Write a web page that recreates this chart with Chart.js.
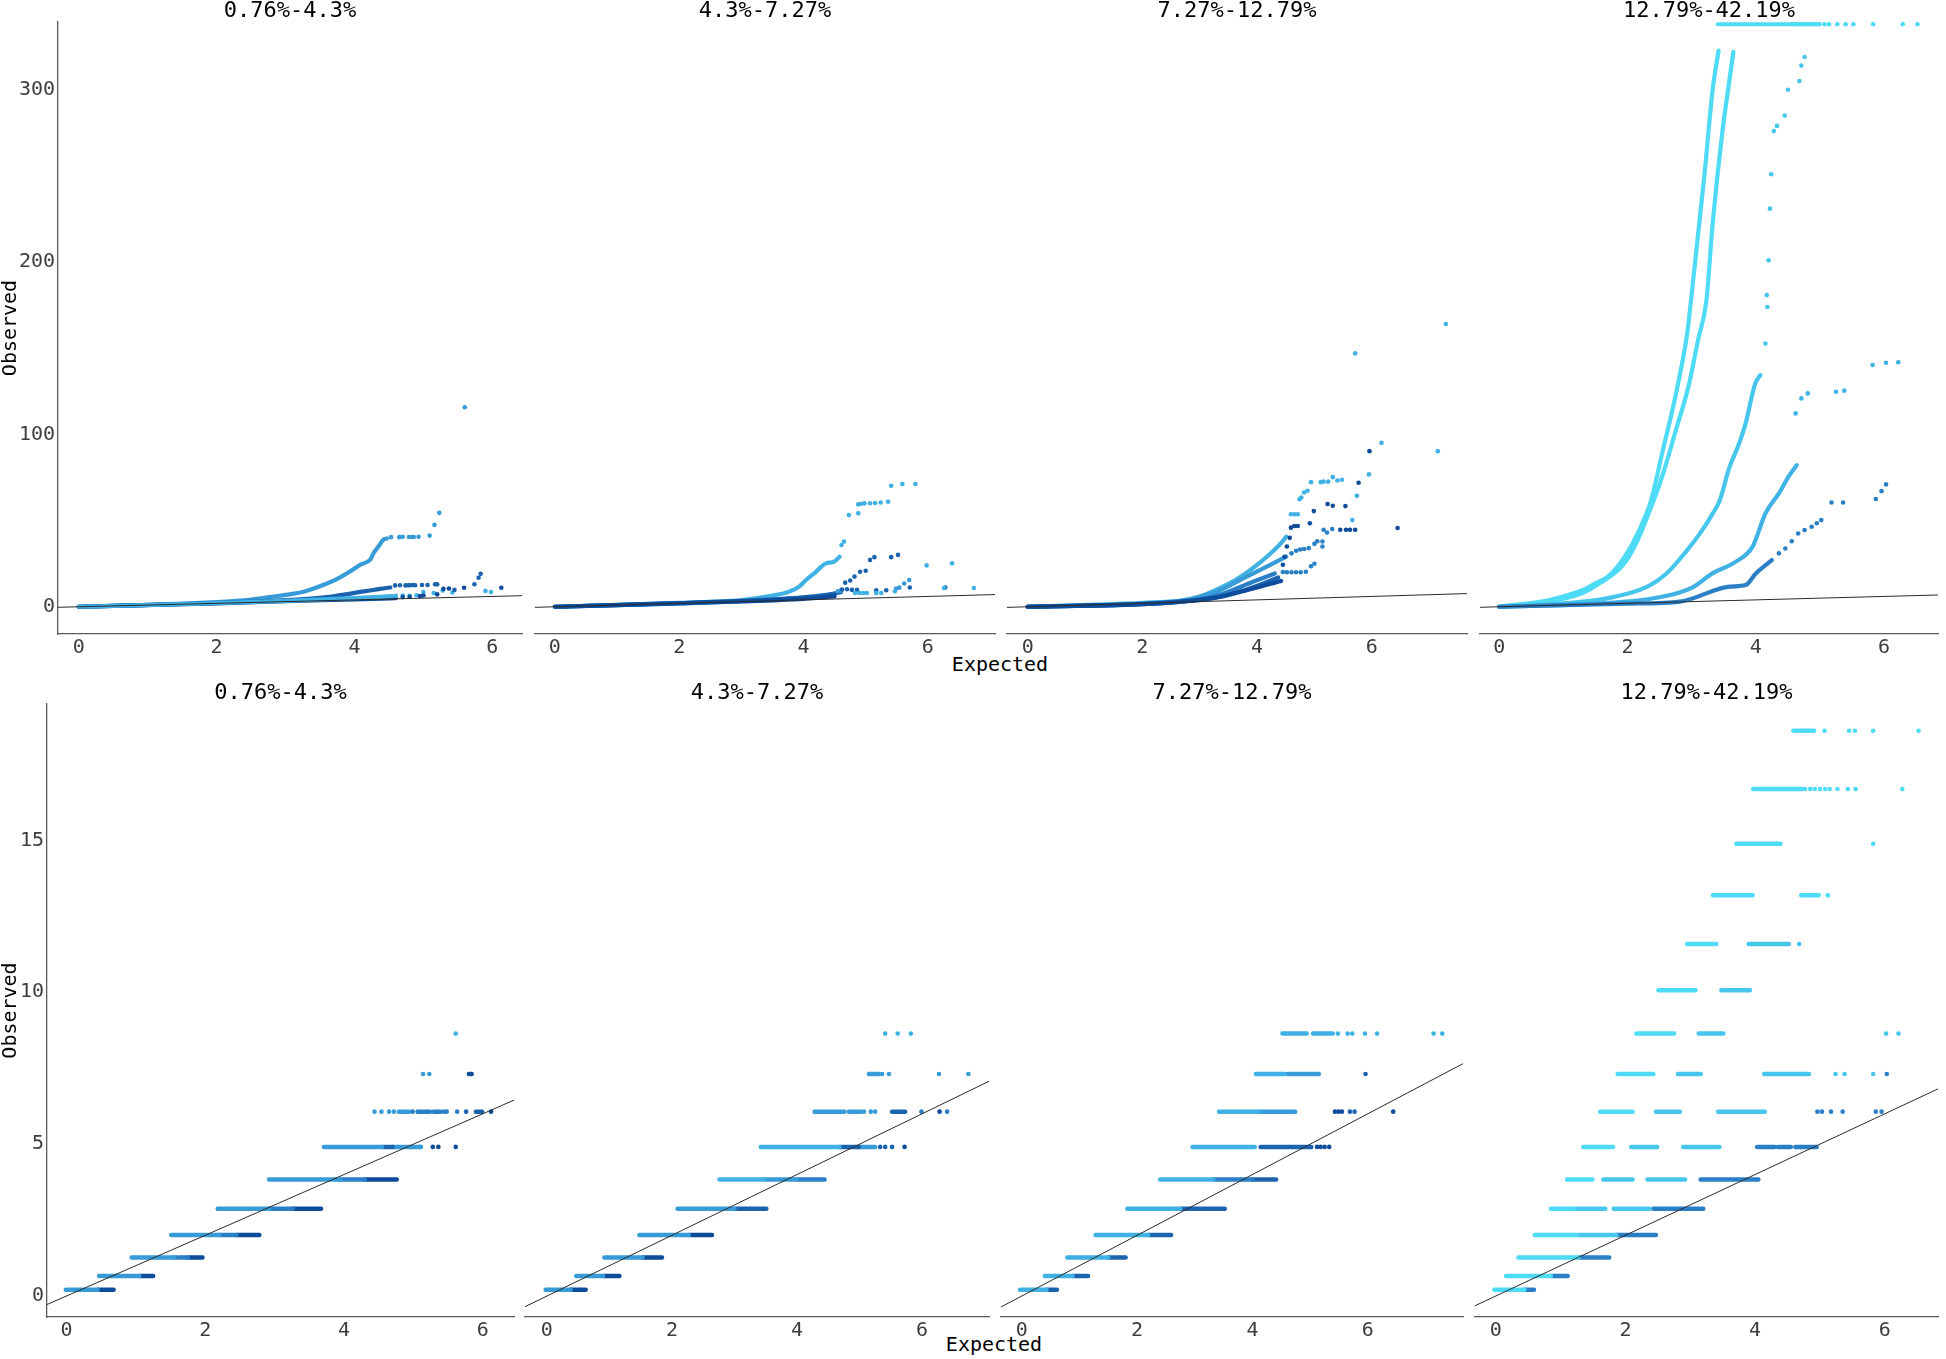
<!DOCTYPE html>
<html>
<head>
<meta charset="utf-8">
<script src="https://cdn.jsdelivr.net/npm/chart.js@4.4.0/dist/chart.umd.min.js"></script>
<style>
  body { margin: 0; background: #fff; width: 1946px; height: 1359px; overflow: hidden; position: relative; font-family: 'DejaVu Sans Mono', monospace; }
  .panel { position: absolute; }
  .xlab { position: absolute; font-size: 20px; color: #000; transform: translate(-50%, -50%); white-space: nowrap; }
</style>
</head>
<body>
<div class="xlab" style="left:1000px;top:664px">Expected</div>
<div class="xlab" style="left:994px;top:1344px">Expected</div>
<script>
// ---- data ----
const panelTitles = ['0.76%-4.3%', '4.3%-7.27%', '7.27%-12.79%', '12.79%-42.19%'];
const xTickVals = [0, 2, 4, 6];
const topYTickVals = [0, 100, 200, 300];
const botYTickVals = [0, 5, 10, 15];
const topXLim = [[-0.30, 6.43], [-0.32, 7.08], [-0.36, 7.66], [-0.30, 6.84]];
const topYLim = [-15.8, 339.3];
const botXLim = [[-0.28, 6.45], [-0.35, 7.07], [-0.36, 7.65], [-0.32, 6.82]];
const botYLim = [-0.69, 19.49];

// observed values are discrete in the lower row
const obsLevels = [0.21, 0.66, 1.27, 2.01, 2.87, 3.84, 4.91, 6.07, 7.31, 8.64, 10.07, 11.59, 13.19, 14.89, 16.69, 18.61];

// top row: dense curves [series, [[x,y],...]] and loose points
const top1Lines = [
  [2, [[0,0],[2,2.1],[3,3.4],[4,5.0],[4.55,6.2]]],
  [6, [[0,0],[2,2.0],[3,3.2],[4,4.3],[4.6,5.0]]],
  [5, [[0,0],[2,2.2],[3,3.8],[3.6,5.6],[4.14,8.9],[4.35,10.2],[4.52,11.2]]],
  [3, [[0,0],[1,1.1],[2,2.7],[2.5,4.2],[2.8,5.8],[3.1,7.5],[3.3,9.2],[3.5,11.9],[3.75,16.2],[3.94,20.6],[4.09,24.5],[4.23,27.4],[4.28,31.3],[4.35,35.1],[4.42,39.0],[4.47,39.6]]]
];
const top1Dots = [
  [3, [[4.53,40.4],[4.65,40.4],[4.70,40.6],[4.79,40.5],[4.83,40.5],[4.86,40.5],[4.93,40.6],[5.09,41.3],[5.16,47.5],[5.23,54.5],[5.60,115.8]]],
  [5, [[4.59,12.4],[4.66,12.5],[4.74,12.4],[4.78,12.5],[4.81,12.5],[4.85,12.6],[4.88,12.5],[4.98,12.6],[5.06,12.6],[5.17,13.1],[5.20,13.0],[5.45,9.8],[5.74,13.1],[5.80,16.8],[5.83,19.1]]],
  [6, [[4.7,5.6],[4.8,5.8],[4.95,6.2],[5.0,6.5],[5.2,7.2],[5.29,10.4],[5.37,10.6],[5.59,11.0],[6.13,11.0]]],
  [2, [[4.6,6.4],[4.7,6.5],[4.8,6.4],[4.9,6.7],[5.0,8.5],[5.15,8.0],[5.28,9.5],[5.42,8.3],[5.9,9.2],[5.98,8.5]]]
];

const top2Lines = [
  [6, [[0,0],[3,3.1],[4,4.6],[4.5,6.0]]],
  [5, [[0,0],[2,2.1],[3,3.4],[4,5.5],[4.4,7.0],[4.6,8.5]]],
  [3, [[0,0],[3,3.3],[4,5.3],[4.5,7.5]]],
  [2, [[0,0],[2,2.3],[3,3.9],[3.5,6.5],[3.77,8.8],[3.93,11.7],[4.04,15.5],[4.20,20.3],[4.36,25.2],[4.49,26.1],[4.58,29.0]]]
];
const top2Dots = [
  [2, [[4.61,35.8],[4.65,37.8],[4.73,53.2],[4.88,54.2],[4.88,59.4],[4.93,59.8],[4.98,60.0],[5.07,60.1],[5.15,60.2],[5.24,60.5],[5.36,60.9],[5.41,70.2],[5.59,71.2],[5.80,71.2],[5.98,24.0],[6.39,25.2],[6.74,10.9],[6.26,10.9],[5.47,9.0],[5.17,8.0],[5.25,8.0],[4.83,8.0],[4.90,8.0],[4.96,8.0],[5.02,8.0]]],
  [5, [[5.07,27.2],[5.14,28.8],[5.41,28.8],[5.52,30.1],[5.00,20.9],[4.91,20.3],[4.82,17.5],[4.75,15.2],[4.67,14.0],[4.62,10.0],[4.70,10.2],[4.78,9.8],[4.86,9.8],[5.17,9.6],[5.33,9.6],[5.71,11.2],[6.28,11.2]]],
  [3, [[5.49,10.6],[5.54,11.1],[5.62,13.5],[5.70,15.5],[4.55,9.0],[4.6,9.5]]]
];

const top3Lines = [
  [6, [[0,0],[2.5,2.4],[3.3,5.5],[3.82,9.6],[4.42,15.0]]],
  [5, [[0,0],[2.5,2.5],[3.4,6.0],[4.11,13.5],[4.37,17.0]]],
  [4, [[0,0],[2.5,2.6],[3.3,6.5],[3.93,14.5],[4.31,19.3]]],
  [3, [[0,0],[2.5,2.8],[3.2,7.5],[3.82,17.5],[4.28,25.2],[4.51,29.1]]],
  [2, [[0,0],[1.5,1.6],[2.3,2.7],[2.68,3.6],[3.0,6.0],[3.36,11.0],[3.6,15.0],[3.93,22.5],[4.22,30.5],[4.39,35.9],[4.51,40.7]]]
];
const top3Dots = [
  [2, [[4.59,53.7],[4.65,53.7],[4.71,53.7],[4.74,62.4],[4.77,63.4],[4.82,66.3],[4.88,67.3],[4.94,72.3],[5.11,72.3],[5.16,72.6],[5.24,72.6],[5.32,75.2],[5.40,73.3],[5.48,73.7],[5.66,50.3],[5.74,64.4],[5.95,76.8],[5.71,147],[6.17,95.1],[7.15,90.3],[7.29,164]]],
  [4, [[4.6,31],[4.68,32.5],[4.75,33.2],[4.82,33.5],[4.9,34],[5.0,36.5],[5.05,38],[5.14,37.9],[5.14,35.0],[5.16,44.7],[5.22,43.1],[5.31,45.1],[4.45,20.2],[4.52,20.0],[4.6,20.0],[4.68,20.0],[4.76,20.0],[4.85,20.3],[4.94,23.5],[5.0,25.0]]],
  [6, [[4.45,24.4],[4.48,29],[4.52,35],[4.57,40],[4.59,45.9],[4.65,46.9],[4.71,46.9],[4.92,48.5],[4.99,55.5],[5.23,59.6],[5.32,58.6],[5.54,58.4],[5.45,44.7],[5.55,44.7],[5.62,44.7],[5.71,44.7],[5.77,72.0],[5.96,90.3],[6.45,45.7]]]
];

const top4Lines = [
  [4, [[0,0],[2.0,1.8],[2.82,3.0],[3.59,11.7],[3.84,12.6],[4.0,19.3],[4.25,27.1]]],
  [2, [[0,0],[1.5,1.8],[2.5,5.5],[3.0,11],[3.33,19.5],[3.69,26.2],[3.95,34.9],[4.15,54.2],[4.36,65.8],[4.51,75.5],[4.64,82.2]]],
  [1, [[0,0],[1,2.0],[1.7,5.0],[2.31,11.7],[2.6,19],[2.93,32.9],[3.13,42.6],[3.33,54.2],[3.44,61.9],[3.59,81.2],[3.72,92.8],[3.84,106.3],[3.99,129.5],[4.07,134.4]]],
  [0, [[0,0],[0.8,3.2],[1.3,8.0],[1.6,14.5],[1.91,23.4],[2.11,35.0],[2.31,52.4],[2.54,75.6],[2.77,104.6],[2.95,127.8],[3.10,154.9],[3.23,177.9],[3.33,223.5],[3.48,276],[3.59,306],[3.65,322]]],
  [0, [[0,0],[0.78,3.9],[1.30,9.7],[1.50,13.6],[1.70,17.6],[1.96,29.2],[2.16,42.7],[2.37,62.0],[2.54,89.1],[2.70,114.2],[2.82,135.4],[2.93,158.5],[2.99,177.9],[3.20,251],[3.33,301],[3.42,322.7]]],
  [0, [[3.41,338],[4.56,338]]]
];
const top4Dots = [
  [1, [[4.15,152.7],[4.18,173.9],[4.17,180.8],[4.20,201],[4.22,231],[4.24,251],[4.28,276],[4.33,279],[4.45,285],[4.50,300],[4.68,305],[4.71,314],[4.76,319]]],
  [2, [[4.62,112.2],[4.71,120.9],[4.81,123.8],[5.25,124.8],[5.38,125.4],[5.82,140.3],[6.03,141.6],[6.22,141.9]]],
  [4, [[4.36,31],[4.46,33.8],[4.56,38],[4.66,42.5],[4.76,44.5],[4.87,46.4],[4.95,48.5],[5.02,50.3],[5.18,60.5],[5.36,60.5],[5.87,62.5],[5.96,67.1],[6.03,71.0]]],
  [0, [[4.58,338],[4.62,338],[4.66,338],[4.7,338],[4.74,338],[4.78,338],[4.82,338],[4.86,338],[4.9,338],[4.95,338],[4.99,338],[5.07,338],[5.14,338],[5.27,338],[5.40,338],[5.52,338],[5.83,338],[6.29,338],[6.52,338]]]
];

// bottom row: runs [level index, x from, x to, series] and points [level index, x, series]
const bot1Runs = [
  [0,-0.01,0.45,3],[0,0.45,0.68,6],
  [1,0.47,1.05,3],[1,1.05,1.25,6],
  [2,0.94,1.55,3],[2,1.55,1.75,4],[2,1.75,1.96,6],
  [3,1.51,2.2,3],[3,2.2,2.45,4],[3,2.45,2.78,6],
  [4,2.18,2.92,3],[4,2.92,3.26,4],[4,3.26,3.67,6],
  [5,2.92,3.95,3],[5,3.95,4.3,4],[5,4.3,4.76,6],
  [6,3.71,4.55,3],[6,4.55,4.7,5],[6,4.7,5.11,3],
  [7,4.79,4.94,3],[7,5.06,5.24,4],[7,5.29,5.39,4],[7,5.90,5.99,5],
  [8,5.80,5.84,6]
];
const bot1Dots = [
  [6,5.28,6],[6,5.36,6],[6,5.61,6],[6,5.10,3],
  [7,4.44,3],[7,4.54,3],[7,4.65,3],[7,4.72,3],[7,4.99,4],[7,5.44,4],[7,5.48,4],[7,5.63,4],[7,5.76,5],[7,6.12,6],
  [8,5.14,3],[8,5.23,3],
  [9,5.61,2]
];
const bot2Runs = [
  [0,-0.02,0.38,3],[0,0.38,0.62,6],
  [1,0.47,0.90,3],[1,0.90,1.16,6],
  [2,0.92,1.53,3],[2,1.53,1.84,6],
  [3,1.48,2.27,3],[3,2.27,2.64,6],
  [4,2.09,3.0,3],[4,3.0,3.51,5],
  [5,2.76,3.47,2],[5,3.47,4.0,3],[5,4.0,4.44,4],
  [6,3.42,4.68,2],[6,4.68,4.99,5],[6,4.99,5.25,3],
  [7,4.28,4.76,3],[7,4.83,5.02,3],[7,5.52,5.73,5],
  [8,5.15,5.31,3]
];
const bot2Dots = [
  [6,5.33,5],[6,5.41,5],[6,5.52,5],[6,5.72,6],
  [7,5.07,3],[7,5.18,3],[7,5.25,3],[7,5.99,4],[7,6.28,6],[7,6.40,4],
  [8,5.36,3],[8,5.47,3],[8,6.27,3],[8,6.74,3],
  [9,5.41,2],[9,5.61,2],[9,5.82,2]
];
const bot3Runs = [
  [0,-0.03,0.43,2],[0,0.43,0.61,5],
  [1,0.40,0.88,2],[1,0.88,1.15,5],
  [2,0.79,1.50,2],[2,1.50,1.80,5],
  [3,1.28,2.19,2],[3,2.19,2.59,5],
  [4,1.83,2.75,2],[4,2.75,3.52,5],
  [5,2.40,3.32,2],[5,3.32,4.0,4],[5,4.0,4.41,5],
  [6,2.96,4.04,2],[6,4.14,5.02,5],
  [7,3.42,4.1,2],[7,4.1,4.74,3],
  [8,4.06,4.56,2],[8,4.61,5.15,3],
  [9,4.52,4.94,2],[9,5.05,5.39,2]
];
const bot3Dots = [
  [6,5.12,6],[6,5.18,6],[6,5.25,6],[6,5.33,6],
  [7,5.43,6],[7,5.49,6],[7,5.55,6],[7,5.69,5],[7,5.77,5],[7,6.44,6],
  [8,5.96,5],
  [9,5.48,2],[9,5.65,2],[9,5.73,2],[9,5.95,2],[9,6.16,2],[9,7.14,2],[9,7.29,2]
];
const bot4Runs = [
  [0,-0.02,0.44,0],[0,0.44,0.59,4],
  [1,0.16,0.85,0],[1,0.85,1.11,4],
  [2,0.35,1.28,0],[2,1.28,1.75,4],
  [3,0.60,1.25,0],[3,1.28,1.86,1],[3,1.86,2.47,4],
  [4,0.85,1.20,0],[4,1.23,1.69,1],[4,1.82,2.37,1],[4,2.43,3.20,4],
  [5,1.10,1.49,0],[5,1.66,2.11,1],[5,2.34,2.92,1],[5,3.16,4.05,4],
  [6,1.35,1.81,0],[6,2.09,2.49,1],[6,2.89,3.45,1],[6,4.03,4.3,4],[6,4.35,4.55,4],[6,4.62,4.95,4],
  [7,1.61,2.11,0],[7,2.47,2.84,1],[7,3.43,4.15,1],
  [8,1.88,2.43,0],[8,2.81,3.16,1],[8,4.14,4.83,1],
  [9,2.17,2.75,0],[9,3.13,3.51,1],
  [10,2.51,3.08,0],[10,3.48,3.92,1],
  [11,2.95,3.40,0],[11,3.90,4.52,1],
  [12,3.35,3.96,0],[12,4.71,4.98,0],
  [13,3.71,4.39,0],
  [14,3.97,4.72,0],
  [15,4.59,4.91,0]
];
const bot4Dots = [
  [7,4.96,4],[7,5.03,4],[7,5.17,4],[7,5.35,4],[7,5.86,4],[7,5.95,4],
  [8,5.24,1],[8,5.38,1],[8,5.82,1],[8,6.03,4],
  [9,6.02,1],[9,6.21,1],
  [11,4.68,1],
  [12,5.12,0],
  [13,5.82,0],
  [14,4.77,0],[14,4.85,0],[14,4.92,0],[14,5.0,0],[14,5.08,0],[14,5.15,0],[14,5.27,0],[14,5.43,0],[14,5.55,0],[14,6.27,0],
  [15,5.07,0],[15,5.45,0],[15,5.54,0],[15,5.82,0],[15,6.52,0]
];

// ---- styling / layout ----
const FONT = 'DejaVu Sans Mono';
const seriesColors = ['#4ddbf5', '#46c6ec', '#3fb1e4', '#379bd8', '#2a7fc6', '#1c63ae', '#0d4b9b'];
const TITLE_H = 22;
const X_H = 30;
const topBox = [[58, 526], [531, 999], [1003, 1471], [1476, 1942]];
const botBox = [[47, 518], [521, 993], [997, 1467], [1471, 1942]];

function diagonal(xLim) {
  return {
    data: [{x: xLim[0], y: xLim[0]}, {x: xLim[1], y: xLim[1]}],
    showLine: true, pointRadius: 0, borderColor: '#2b2b2b', borderWidth: 1
  };
}

function dotSet(s, pts) {
  return {
    data: pts.map(p => ({x: p[0], y: p[1]})),
    pointRadius: 2.3, pointBorderWidth: 0,
    backgroundColor: seriesColors[s], borderColor: seriesColors[s]
  };
}

function topDatasets(lines, dots, xLim) {
  const ds = [diagonal(xLim)];
  dots.forEach(d => ds.push(dotSet(d[0], d[1])));
  lines.forEach(l => {
    ds.push({
      data: l[1].map(p => ({x: p[0], y: p[1]})),
      showLine: true, pointRadius: 0,
      borderColor: seriesColors[l[0]], borderWidth: 4.2,
      borderCapStyle: 'round', borderJoinStyle: 'round',
      cubicInterpolationMode: 'monotone'
    });
  });
  return ds;
}

function botDatasets(runs, dots, xLim) {
  const ds = [diagonal(xLim)];
  const bySeries = {};
  dots.forEach(d => {
    (bySeries[d[2]] = bySeries[d[2]] || []).push([d[1], obsLevels[d[0]]]);
  });
  Object.keys(bySeries).forEach(s => ds.push(dotSet(+s, bySeries[s])));
  runs.forEach(r => {
    const y = obsLevels[r[0]];
    ds.push({
      data: [{x: r[1], y: y}, {x: r[2], y: y}],
      showLine: true, pointRadius: 0,
      borderColor: seriesColors[r[3]], borderWidth: 4.5,
      borderCapStyle: 'round'
    });
  });
  return ds;
}

function makePanel(box, withY, plotTop, plotH, xLim, yLim, yTicks, title, datasets) {
  const yW = withY ? box[0] : 0;
  const div = document.createElement('div');
  div.className = 'panel';
  div.style.left = (box[0] - yW) + 'px';
  div.style.top = (plotTop - TITLE_H) + 'px';
  div.style.width = (box[1] - box[0] + yW) + 'px';
  div.style.height = (TITLE_H + plotH + X_H) + 'px';
  const cv = document.createElement('canvas');
  div.appendChild(cv);
  document.body.appendChild(div);

  new Chart(cv, {
    type: 'scatter',
    data: { datasets: datasets },
    options: {
      responsive: true,
      maintainAspectRatio: false,
      animation: false,
      layout: { padding: 0 },
      plugins: {
        legend: { display: false },
        tooltip: { enabled: false },
        title: {
          display: true, text: title, fullSize: false, color: '#000',
          font: { family: FONT, size: 22, weight: 'normal', lineHeight: TITLE_H + 'px' },
          padding: 0
        }
      },
      scales: {
        x: {
          type: 'linear', min: xLim[0], max: xLim[1],
          grid: { display: false, drawTicks: false },
          border: { display: true, color: '#595959', width: 1.3 },
          ticks: { color: '#3d3d3d', font: { family: FONT, size: 20 }, padding: 2, maxRotation: 0, autoSkip: false },
          afterBuildTicks: s => { s.ticks = xTickVals.map(v => ({value: v})); },
          afterFit: s => { s.height = X_H; }
        },
        y: {
          type: 'linear', min: yLim[0], max: yLim[1], display: withY,
          grid: { display: false, drawTicks: false },
          border: { display: true, color: '#595959', width: 1.3 },
          ticks: { color: '#3d3d3d', font: { family: FONT, size: 20 }, padding: 3 },
          title: { display: true, text: 'Observed', color: '#000', font: { family: FONT, size: 20, lineHeight: '22px' }, padding: 0 },
          afterBuildTicks: s => { s.ticks = yTicks.map(v => ({value: v})); },
          afterFit: s => { s.width = yW; }
        }
      }
    }
  });
}

const topLines = [top1Lines, top2Lines, top3Lines, top4Lines];
const topDots = [top1Dots, top2Dots, top3Dots, top4Dots];
const botRuns = [bot1Runs, bot2Runs, bot3Runs, bot4Runs];
const botDots = [bot1Dots, bot2Dots, bot3Dots, bot4Dots];

for (let i = 0; i < 4; i++) {
  makePanel(topBox[i], i === 0, 22, 612, topXLim[i], topYLim, topYTickVals, panelTitles[i],
    topDatasets(topLines[i], topDots[i], topXLim[i]));
  makePanel(botBox[i], i === 0, 704, 613, botXLim[i], botYLim, botYTickVals, panelTitles[i],
    botDatasets(botRuns[i], botDots[i], botXLim[i]));
}
</script>
</body>
</html>
